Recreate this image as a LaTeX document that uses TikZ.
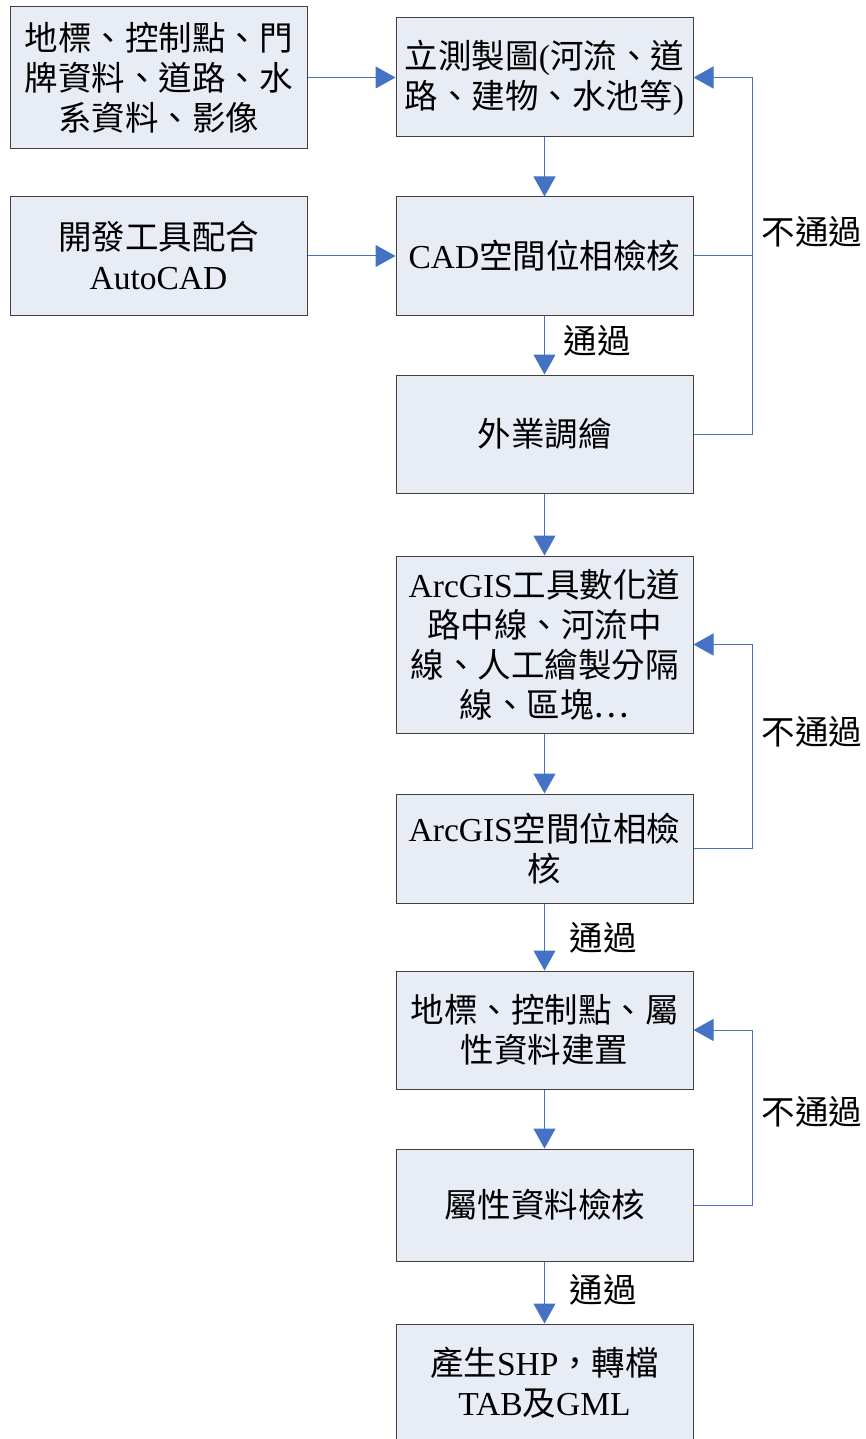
\documentclass[tikz,border=0pt]{standalone}
\usepackage{fontspec}
\setmainfont{Noto Sans CJK TC}
\newfontfamily\latfont{Liberation Serif}
\newcommand\en[1]{{\latfont #1}}
\usetikzlibrary{arrows.meta}
\definecolor{boxfill}{HTML}{E8ECF5}
\definecolor{boxline}{HTML}{404040}
\definecolor{flow}{HTML}{4472C4}
\tikzset{
  proc/.style={draw=boxline, line width=1pt, fill=boxfill, minimum width=297pt, align=center, inner sep=0pt,
    font=\fontsize{33.5}{40}\selectfont},
  conn/.style={draw=flow, line width=1pt},
  arr/.style={conn, -{Triangle[length=20pt,width=22pt]}},
  lbl/.style={font=\fontsize{33.5}{40}\selectfont, inner sep=0pt}
}
\begin{document}
\begin{tikzpicture}[x=1pt,y=-1pt]
\useasboundingbox (0,0) rectangle (865,1439);
\clip (0,0) rectangle (865,1439);
\node[proc, minimum height=142pt] (A) at (158.5,78) {地標、控制點、門\\牌資料、道路、水\\系資料、影像};
\node[proc, minimum height=118pt] (B) at (158.5,256) {開發工具配合\\\en{AutoCAD}};
\node[proc, minimum height=119pt] (R1) at (544.5,77.5) {立測製圖\en{(}河流、道\\路、建物、水池等\en{)}};
\node[proc, minimum height=118pt] (R2) at (544.5,256) {\en{CAD}空間位相檢核};
\node[proc, minimum height=118pt] (R3) at (544.5,434) {外業調繪};
\node[proc, minimum height=177pt] (R4) at (544.5,644.5) {\en{ArcGIS}工具數化道\\路中線、河流中\\線、人工繪製分隔\\線、區塊…};
\node[proc, minimum height=109pt] (R5) at (544.5,848.5) {\en{ArcGIS}空間位相檢\\核};
\node[proc, minimum height=118pt] (R6) at (544.5,1030) {地標、控制點、屬\\性資料建置};
\node[proc, minimum height=112pt] (R7) at (544.5,1205) {屬性資料檢核};
\node[proc, minimum height=118pt] (R8) at (544.5,1383) {產生\en{SHP}，轉檔\\\en{TAB}及\en{GML}};
\coordinate (fb) at (752,0);
% inputs
\draw[arr] (A.east |- R1.east) -- (R1.west);
\draw[arr] (B.east) -- (R2.west);
% main flow
\draw[arr] (R1) -- (R2);
\draw[arr] (R2) -- (R3);
\draw[arr] (R3) -- (R4);
\draw[arr] (R4) -- (R5);
\draw[arr] (R5) -- (R6);
\draw[arr] (R6) -- (R7);
\draw[arr] (R7) -- (R8);
% feedback loops
\draw[arr] (R3.east) -- (R3.east -| fb) |- (R1.east);
\draw[conn] (R2.east) -- (R2.east -| fb);
\draw[arr] (R5.east) -- (R5.east -| fb) |- (R4.east);
\draw[arr] (R7.east) -- (R7.east -| fb) |- (R6.east);
% labels
\node[lbl] (n1) at (812,232) {不通過};
\node[lbl] (n2) at (812,732) {不通過};
\node[lbl] (n3) at (812,1112) {不通過};
\node[lbl] (p1) at (597,341) {通過};
\node[lbl] (p2) at (603,938) {通過};
\node[lbl] (p3) at (603,1290) {通過};
\end{tikzpicture}
\end{document}
